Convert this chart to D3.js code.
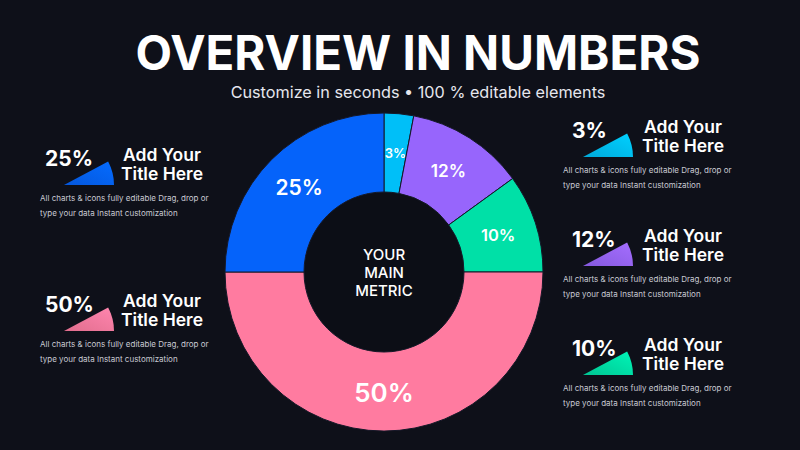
<!DOCTYPE html>
<html>
<head>
<meta charset="utf-8">
<script src="https://cdn.jsdelivr.net/npm/d3@7"></script>
<style>
  html, body { margin: 0; padding: 0; background: #0e1019; }
  svg { display: block; font-family: Inter, "Noto Sans", sans-serif; }
</style>
</head>
<body>
<svg id="chart" width="800" height="450"></svg>
<script>
// slices, clockwise from 12 o'clock
const labels = ["3%", "12%", "10%", "50%", "25%"];
const values = [3, 12, 10, 50, 25];
const colors = ["#00bff8", "#9765fc", "#00e0a7", "#ff7ba0", "#0563fa"];

// callouts: which slice each one describes
const leftCallouts = [4, 3];
const rightCallouts = [0, 1, 2];
const calloutTitle = ["Add Your", "Title Here"];
const calloutText = ["All charts & icons fully editable Drag, drop or", "type your data Instant customization"];

const title = "OVERVIEW IN NUMBERS";
const subtitle = "Customize in seconds \u2022 100 % editable elements";
const centerText = ["YOUR", "MAIN", "METRIC"];

const width = 800;
const height = 450;
const cx = 384, cy = 272;
const outerR = 159, innerR = 80;

const svg = d3.select("#chart");

svg.append("rect")
    .attr("width", width)
    .attr("height", height)
    .attr("fill", "#0e1019");

// heading
const titleText = svg.append("text")
    .attr("x", 418)
    .attr("y", 70)
    .attr("text-anchor", "middle")
    .attr("fill", "#ffffff")
    .attr("font-size", 48)
    .attr("font-weight", 700)
    .text(title);
// fit heading to its width in the picture
const tw = titleText.node().getComputedTextLength();
titleText.attr("font-size", 48 * 565 / tw);

const subText = svg.append("text")
    .attr("x", 418)
    .attr("y", 98)
    .attr("text-anchor", "middle")
    .attr("fill", "#e6e7ee")
    .attr("font-size", 16)
    .text(subtitle);
const sw = subText.node().getComputedTextLength();
subText.attr("font-size", 16 * 375 / sw);

// donut
const pie = d3.pie().sort(null).value(d => d.value);
const arcs = pie(values.map((v, i) => ({ value: v, label: labels[i], color: colors[i] })));

const arc = d3.arc().innerRadius(innerR).outerRadius(outerR);
const labelArc = d3.arc().innerRadius(120).outerRadius(120);
const labelSize = d3.scaleSqrt().domain([0, 50]).range([8.8, 26]);

const donut = svg.append("g")
    .attr("transform", "translate(" + cx + "," + cy + ")");

donut.selectAll("path.slice")
    .data(arcs)
    .enter()
    .append("path")
    .attr("class", "slice")
    .attr("d", arc)
    .attr("fill", d => d.data.color)
    .attr("stroke", "#151828")
    .attr("stroke-width", 1);

donut.selectAll("text.slice-label")
    .data(arcs)
    .enter()
    .append("text")
    .attr("class", "slice-label")
    .attr("transform", d => {
        const c = labelArc.centroid(d);
        return "translate(" + c[0] + "," + c[1] + ")";
    })
    .attr("text-anchor", "middle")
    .attr("dominant-baseline", "central")
    .attr("fill", "#ffffff")
    .attr("font-size", d => labelSize(d.data.value))
    .attr("font-weight", 600)
    .text(d => d.data.label);

donut.append("circle")
    .attr("r", innerR - 1)
    .attr("fill", "#0c0e16");

donut.selectAll("text.center")
    .data(centerText)
    .enter()
    .append("text")
    .attr("class", "center")
    .attr("x", 0)
    .attr("y", (d, i) => (i - 1) * 18)
    .attr("text-anchor", "middle")
    .attr("dominant-baseline", "central")
    .attr("fill", "#ffffff")
    .attr("font-size", 15)
    .attr("font-weight", 500)
    .text(d => d);

// gradients for the little wedges
const defs = svg.append("defs");
colors.forEach((c, i) => {
    const g = defs.append("linearGradient")
        .attr("id", "wedge" + i)
        .attr("x1", 0).attr("y1", 1)
        .attr("x2", 1).attr("y2", 0);
    g.append("stop").attr("offset", "0%").attr("stop-color", d3.color(c).darker(0.35));
    g.append("stop").attr("offset", "100%").attr("stop-color", d3.color(c).brighter(0.25));
});

const wedge = d3.arc()
    .innerRadius(0)
    .outerRadius(50)
    .startAngle(62 * Math.PI / 180)
    .endAngle(Math.PI / 2);

function drawCallout(sliceIndex, x, y, side) {
    const g = svg.append("g")
        .attr("transform", "translate(" + x + "," + y + ")");

    g.append("path")
        .attr("d", wedge())
        .attr("fill", "url(#wedge" + sliceIndex + ")");

    g.append("text")
        .attr("x", side === "left" ? -19 : -11)
        .attr("y", -19)
        .attr("fill", "#ffffff")
        .attr("font-size", 21)
        .attr("font-weight", 700)
        .text(labels[sliceIndex]);

    g.selectAll("text.ctitle")
        .data(calloutTitle)
        .enter()
        .append("text")
        .attr("class", "ctitle")
        .attr("x", side === "left" ? 98 : 100)
        .attr("y", (d, i) => -24 + i * 19)
        .attr("text-anchor", "middle")
        .attr("fill", "#ffffff")
        .attr("font-size", 17.5)
        .attr("font-weight", 600)
        .text(d => d);

    g.selectAll("text.cdesc")
        .data(calloutText)
        .enter()
        .append("text")
        .attr("class", "cdesc")
        .attr("x", side === "left" ? -24 : -20)
        .attr("y", (d, i) => 16 + i * 15)
        .attr("fill", "#c9cad3")
        .attr("font-size", 8)
        .text(d => d);
}

leftCallouts.forEach((s, i) => drawCallout(s, 64, 185 + i * 146, "left"));
rightCallouts.forEach((s, i) => drawCallout(s, 583, 157 + i * 109, "right"));
</script>
</body>
</html>
